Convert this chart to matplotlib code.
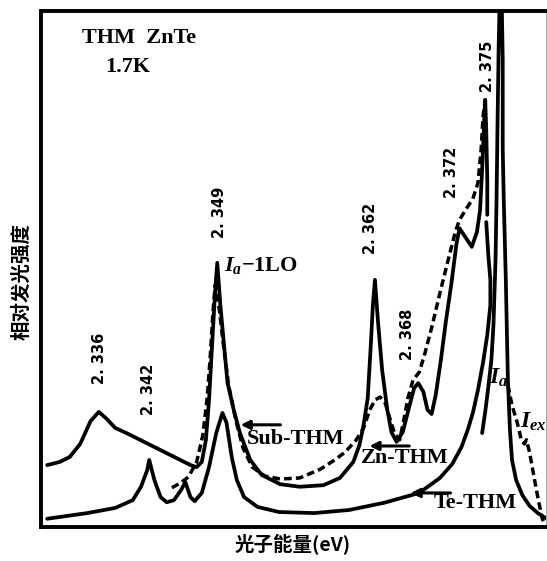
import numpy as np
import matplotlib.pyplot as plt
from matplotlib import font_manager

# bold italic serif for the I_a / I_ex symbols, like the scan
plt.rcParams['mathtext.fontset'] = 'custom'
plt.rcParams['mathtext.it'] = 'Liberation Serif:bold:italic'
plt.rcParams['mathtext.rm'] = 'Liberation Serif:bold'

# photon energy (eV) / relative intensity (a.u., 0-100)
sub_E = [2.3326, 2.3338, 2.3348, 2.3358, 2.3368, 2.3376, 2.3383, 2.3392, 2.3405, 2.3426,
         2.3445, 2.3465, 2.3471, 2.3476, 2.3480, 2.3483, 2.3486, 2.3489, 2.3491, 2.3494,
         2.3498, 2.3501, 2.3507, 2.3513, 2.3523, 2.3534, 2.3552, 2.3571, 2.3594, 2.3610,
         2.3623, 2.3629, 2.3633, 2.3637, 2.3640, 2.3642, 2.3644, 2.3647, 2.3651, 2.3656,
         2.3660, 2.3665, 2.3671, 2.3677, 2.3682, 2.3686, 2.3691, 2.3695, 2.3699, 2.3703,
         2.3708, 2.3713, 2.3718, 2.3723, 2.3726, 2.3731, 2.3738, 2.3743, 2.3746, 2.3748,
         2.3750, 2.3751, 2.3752, 2.3753, 2.3753]
sub_I = [12.0, 12.6, 13.6, 16.1, 20.5, 22.3, 21.1, 19.2, 18.0, 15.9,
         14.0, 12.0, 11.6, 12.6, 16.9, 24.6, 35.3, 45.9, 51.2, 43.0,
         34.3, 27.9, 22.7, 18.2, 13.0, 10.1, 8.3, 7.8, 8.1, 9.5,
         12.6, 15.9, 19.8, 25.0, 35.3, 43.0, 47.9, 39.7, 30.4, 22.7,
         18.4, 16.5, 18.4, 23.1, 26.9, 27.9, 26.2, 22.7, 21.9, 25.6,
         32.4, 40.1, 46.9, 54.7, 57.9, 56.4, 54.3, 57.2, 61.4, 69.2,
         78.9, 82.8, 76.9, 67.2, 60.5]

zn_E = [2.3447, 2.3455, 2.3463, 2.3471, 2.3477, 2.3481, 2.3484, 2.3487, 2.3489, 2.3493,
        2.3497, 2.3502, 2.3509, 2.3516, 2.3525, 2.3537, 2.3552, 2.3571, 2.3591, 2.3605,
        2.3615, 2.3626, 2.3633, 2.3639, 2.3644, 2.3649, 2.3654, 2.3659, 2.3663, 2.3668,
        2.3672, 2.3676, 2.3681, 2.3687, 2.3692, 2.3699, 2.3707, 2.3715, 2.3722, 2.3726,
        2.3733, 2.3739, 2.3744, 2.3747, 2.3749, 2.3751, np.nan,
        2.3773, 2.3777, 2.3782, 2.3786, 2.3789, 2.3791, 2.3794, 2.3798, 2.3802, 2.3806,
        2.3808]
zn_I = [7.6, 8.5, 9.7, 12.6, 17.8, 24.6, 32.4, 42.1, 46.9, 42.1,
        35.3, 27.5, 20.7, 15.3, 11.6, 9.9, 9.3, 9.5, 11.2, 13.0,
        14.5, 16.9, 19.2, 22.7, 24.6, 25.2, 24.0, 20.7, 18.2, 16.9,
        20.7, 25.0, 28.5, 30.0, 33.3, 38.6, 45.3, 51.7, 57.2, 59.5,
        61.8, 63.6, 66.7, 73.1, 79.8, 82.8, np.nan,
        27.5, 23.6, 20.3, 16.9, 16.1, 16.9, 14.5, 10.1, 5.8, 1.9,
        0.6]

te_E = [2.3326, 2.3365, 2.3392, 2.3409, 2.3417, 2.3423, 2.3425, 2.3430, 2.3436, 2.3442,
        2.3449, 2.3456, 2.3460, 2.3465, 2.3469, 2.3476, 2.3483, 2.3490, 2.3496, 2.3500,
        2.3505, 2.3510, 2.3517, 2.3530, 2.3551, 2.3585, 2.3619, 2.3653, 2.3687, 2.3707,
        2.3719, 2.3728, 2.3734, 2.3739, 2.3744, 2.3749, 2.3753, 2.3756, 2.3756, 2.3754,
        2.3752]
te_I = [1.6, 2.7, 3.7, 5.2, 7.8, 11.0, 13.0, 9.1, 5.8, 4.8,
        5.2, 7.2, 8.7, 5.8, 5.0, 6.6, 11.6, 18.2, 22.1, 20.2,
        13.6, 9.1, 5.8, 3.9, 2.9, 2.7, 3.3, 4.7, 6.6, 9.5,
        12.2, 15.5, 18.8, 22.1, 26.6, 32.0, 37.2, 43.0, 47.9, 52.7,
        59.1]

# tall free-exciton line, runs off the top of the frame
ex_E = [2.3748, 2.3751, 2.3754, 2.3757, 2.3759, 2.3761, 2.3762, 2.3763, 2.3764, 2.3765,
        2.3767, 2.3768, 2.3768, 2.3769, 2.3771, 2.3772, 2.3773, 2.3775, 2.3777, 2.3781,
        2.3787, 2.3794, 2.3802, 2.3810]
ex_I = [18.2, 22.3, 27.1, 32.4, 39.1, 51.7, 63.4, 78.9, 92.4, 102.1,
        102.1, 90.5, 73.1, 63.4, 47.9, 38.2, 28.5, 18.8, 13.0, 9.1,
        6.2, 4.1, 2.7, 1.7]

peak_text = ['2. 336', '2. 342', '2. 349', '2. 362', '2. 368', '2. 372', '2. 375']
peak_text_E = [2.3377, 2.3424, 2.3493, 2.3640, 2.3676, 2.3718, 2.3753]
peak_text_I = [32.6, 26.7, 60.9, 57.8, 37.4, 68.8, 89.3]

fig = plt.figure(figsize=(5.47, 5.61), dpi=100)
ax = fig.add_axes([0.075, 0.0606, 0.9232, 0.9198])

solid = dict(color='black', lw=2.7, solid_joinstyle='round', solid_capstyle='round')
ax.plot(sub_E, sub_I, **solid)
ax.plot(zn_E, zn_I, color='black', lw=2.5, linestyle=(0, (2.2, 1.2)))
ax.plot(te_E, te_I, **solid)
ax.plot(ex_E, ex_I, **solid)

ax.set_xlim(2.332, 2.381)
ax.set_ylim(0, 100)
ax.set_xticks([])
ax.set_yticks([])
for side in ['left', 'top', 'bottom']:
    ax.spines[side].set_linewidth(2.8)
ax.spines['right'].set_linewidth(0.6)
ax.spines['right'].set_color('0.6')

names = [f.name for f in font_manager.fontManager.ttflist]
if 'Liberation Sans Narrow' in names:
    num_font = dict(family='Liberation Sans Narrow', fontsize=15)
else:
    num_font = dict(family='DejaVu Sans', fontsize=10.5)
for t, e, i in zip(peak_text, peak_text_E, peak_text_I):
    ax.text(e, i, t, rotation=90, ha='center', va='center', fontweight='bold', **num_font)

serif = dict(family='Liberation Serif', fontweight='bold', fontsize=16)
ax.text(2.3360, 94.8, 'THM  ZnTe', ha='left', va='center', **serif)
ax.text(2.3382, 89.1, '1.7K', ha='left', va='center', **serif)
ax.text(2.3498, 50.6, r'$I_a$' + '\u22121LO', ha='left', va='center', **serif)
ax.text(2.3567, 17.1, 'Sub-THM', ha='center', va='center', **serif)
ax.text(2.3673, 13.4, 'Zn-THM', ha='center', va='center', family='Liberation Serif',
        fontweight='semibold', fontsize=16)
ax.text(2.3741, 4.7, 'Te-THM', ha='center', va='center', **serif)
ax.text(2.3764, 29.1, r'$I_a$', ha='center', va='center', fontsize=17)
ax.text(2.3785, 20.5, r'$I_{ex}$', ha='left', va='center', fontsize=17)

arrow = dict(arrowstyle='-|>', lw=2.2, color='black', mutation_scale=13)
ax.annotate('', xy=(2.3511, 19.8), xytext=(2.3555, 19.8), arrowprops=arrow)
ax.annotate('', xy=(2.3636, 15.7), xytext=(2.3680, 15.7), arrowprops=arrow)
ax.annotate('', xy=(2.3676, 6.6), xytext=(2.3720, 6.6), arrowprops=arrow)

cjk = ['Noto Sans CJK SC', 'DejaVu Sans']
fig.text(22 / 547, 1 - 282 / 561, '相对发光强度', rotation=90, ha='center', va='center',
         family=cjk, fontweight='bold', fontsize=14)
fig.text(293 / 547, 1 - 545 / 561, '光子能量(eV)', ha='center', va='center',
         family=cjk, fontweight='bold', fontsize=14)

fig.savefig('out.png', dpi=100)
